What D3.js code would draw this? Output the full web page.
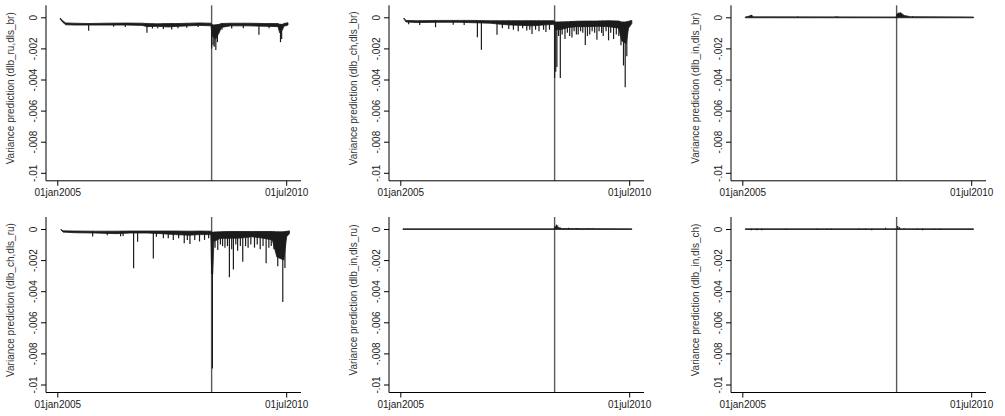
<!DOCTYPE html>
<html>
<head>
<meta charset="utf-8">
<script src="https://cdn.jsdelivr.net/npm/d3@7"></script>
<style>
  body { margin: 0; background: #fff; }
  svg { display: block; font-family: "Liberation Sans", Arial, sans-serif; }
</style>
</head>
<body>
<div id="viz"></div>
<script>
// ---- data ----
const panelLabels = ["dlb_ru,dls_br", "dlb_ch,dls_br", "dlb_in,dls_br",
                     "dlb_ch,dls_ru", "dlb_in,dls_ru", "dlb_in,dls_ch"];
const yTicks = [0, -0.002, -0.004, -0.006, -0.008, -0.01];
const yTickLabels = ["0", "-.002", "-.004", "-.006", "-.008", "-.01"];
const xTickDates = ["2005-01-01", "2010-07-01"];
const xTickLabels = ["01jan2005", "01jul2010"];
const eventDate = "2008-09-15";

// band = [date, upper edge, lower edge] of the dense daily trace
// spikes = [date, extreme value]
const bandRuBr = [
  ["2005-01-27", -0.00005, -0.00012], ["2005-02-15", -0.0002, -0.0003],
  ["2005-03-15", -0.00036, -0.00048], ["2005-06-01", -0.00038, -0.0005],
  ["2005-10-01", -0.0004, -0.0005], ["2006-03-01", -0.00038, -0.0005],
  ["2006-09-01", -0.00037, -0.0005], ["2007-01-15", -0.00038, -0.00052],
  ["2007-03-01", -0.0004, -0.0006], ["2007-06-01", -0.00042, -0.00058],
  ["2007-09-01", -0.0004, -0.00062], ["2007-12-01", -0.0004, -0.00058],
  ["2008-03-01", -0.00038, -0.00055], ["2008-06-01", -0.00036, -0.00052],
  ["2008-09-10", -0.00038, -0.00055], ["2008-09-20", -0.00048, -0.0012],
  ["2008-10-20", -0.0005, -0.0014], ["2008-11-20", -0.00045, -0.001],
  ["2008-12-10", -0.0004, -0.00065], ["2009-03-01", -0.00038, -0.00055],
  ["2009-08-01", -0.00038, -0.00055], ["2010-01-01", -0.0004, -0.00058],
  ["2010-04-20", -0.0004, -0.0006], ["2010-05-05", -0.00045, -0.001],
  ["2010-05-30", -0.00045, -0.0008], ["2010-06-10", -0.0004, -0.00058],
  ["2010-07-17", -0.00035, -0.0005]
];
const spikesRuBr = [
  ["2005-10-03", -0.00086], ["2006-05-10", -0.0006], ["2006-08-20", -0.00062],
  ["2007-02-26", -0.001], ["2007-04-15", -0.00072], ["2007-06-01", -0.0007],
  ["2007-07-20", -0.00075], ["2007-10-01", -0.00078], ["2007-11-25", -0.0007],
  ["2008-02-10", -0.00068], ["2008-05-20", -0.00062], ["2008-09-15", -0.002],
  ["2008-09-28", -0.0018], ["2008-10-08", -0.0019], ["2008-10-22", -0.0021],
  ["2008-11-05", -0.0016], ["2008-12-15", -0.0008], ["2009-03-10", -0.00072],
  ["2009-06-20", -0.0007], ["2009-11-04", -0.00112], ["2010-02-01", -0.0007],
  ["2010-05-12", -0.0016], ["2010-05-22", -0.0014]
];

const bandChBr = [
  ["2005-02-01", -0.00005, -0.0001], ["2005-02-20", -0.0002, -0.0003],
  ["2005-06-01", -0.00022, -0.00034], ["2005-12-01", -0.0002, -0.00032],
  ["2006-06-01", -0.0002, -0.00032], ["2006-10-01", -0.0002, -0.00035],
  ["2007-03-01", -0.00022, -0.00038], ["2007-06-01", -0.00022, -0.00045],
  ["2007-09-01", -0.00022, -0.0005], ["2007-12-01", -0.00022, -0.00052],
  ["2008-03-01", -0.00022, -0.00055], ["2008-06-01", -0.00022, -0.0005],
  ["2008-09-10", -0.00022, -0.00045], ["2008-09-18", -0.0003, -0.0008],
  ["2008-11-01", -0.0003, -0.0008], ["2009-01-15", -0.00028, -0.00065],
  ["2009-04-01", -0.00025, -0.0006], ["2009-07-01", -0.00024, -0.0006],
  ["2009-10-01", -0.00024, -0.00058], ["2010-01-01", -0.00022, -0.0006],
  ["2010-04-01", -0.00024, -0.0007], ["2010-04-25", -0.0003, -0.0015],
  ["2010-06-05", -0.0003, -0.0017], ["2010-06-25", -0.00025, -0.0007],
  ["2010-07-24", -0.0002, -0.0004]
];
const spikesChBr = [
  ["2005-03-15", -0.00045], ["2005-06-20", -0.0005], ["2005-11-06", -0.00064],
  ["2006-04-10", -0.00048], ["2006-07-15", -0.0005], ["2006-11-08", -0.00129],
  ["2006-12-13", -0.00208], ["2007-04-29", -0.00112], ["2007-06-15", -0.0007],
  ["2007-08-10", -0.00075], ["2007-09-20", -0.0008], ["2007-11-01", -0.0009],
  ["2007-12-10", -0.0007], ["2008-01-15", -0.00085], ["2008-02-10", -0.0008],
  ["2008-03-01", -0.00107], ["2008-04-01", -0.0008], ["2008-05-01", -0.0009],
  ["2008-06-10", -0.0008], ["2008-07-01", -0.00095], ["2008-08-01", -0.0008],
  ["2008-09-15", -0.0039], ["2008-09-25", -0.0035], ["2008-10-05", -0.0032],
  ["2008-10-20", -0.0012], ["2008-11-04", -0.0039], ["2008-11-20", -0.0011],
  ["2008-12-15", -0.0014], ["2009-01-05", -0.001], ["2009-01-25", -0.0012],
  ["2009-02-14", -0.0013], ["2009-03-05", -0.0009], ["2009-03-25", -0.0011],
  ["2009-04-10", -0.0011], ["2009-05-01", -0.0009], ["2009-05-20", -0.001],
  ["2009-06-11", -0.00178], ["2009-06-30", -0.0012], ["2009-07-20", -0.0011],
  ["2009-08-10", -0.0009], ["2009-09-01", -0.001], ["2009-09-21", -0.00144],
  ["2009-10-10", -0.0009], ["2009-11-01", -0.001], ["2009-11-15", -0.0012],
  ["2009-12-10", -0.0009], ["2010-01-01", -0.00148], ["2010-01-20", -0.001],
  ["2010-02-14", -0.0014], ["2010-03-10", -0.0011], ["2010-04-01", -0.0012],
  ["2010-04-20", -0.0018], ["2010-05-12", -0.0031], ["2010-05-27", -0.0045],
  ["2010-06-10", -0.0025]
];

const bandInBr = [
  ["2005-01-27", 0.00002, -0.00003], ["2005-03-05", 0.00008, -0.00003],
  ["2005-03-20", 0.00015, -0.00003], ["2005-04-05", 0.00003, -0.00003],
  ["2008-09-10", 0.00002, -0.00003], ["2008-09-20", 0.0002, -0.00003],
  ["2008-10-20", 0.0003, -0.00003], ["2008-11-20", 0.00012, -0.00003],
  ["2009-01-15", 0.00004, -0.00003], ["2010-07-21", 0.00002, -0.00003]
];
const spikesInBr = [
  ["2005-03-10", 0.00008], ["2005-03-25", 0.00015], ["2006-05-01", 0.00005],
  ["2007-04-01", 0.00006], ["2007-04-20", 0.00005], ["2008-09-20", 0.00025],
  ["2008-10-01", 0.0003], ["2008-10-15", 0.00028], ["2008-11-01", 0.00015],
  ["2008-12-20", 0.00006], ["2009-02-01", 0.00006]
];

const bandChRu = [
  ["2005-02-02", -0.00002, -0.00006], ["2005-02-20", -0.00012, -0.0002],
  ["2005-06-01", -0.00013, -0.00024], ["2005-12-01", -0.00014, -0.00026],
  ["2006-06-01", -0.00014, -0.0003], ["2006-10-01", -0.00013, -0.00026],
  ["2007-03-01", -0.00013, -0.00026], ["2007-07-01", -0.00013, -0.0003],
  ["2007-11-01", -0.00013, -0.00036], ["2008-03-01", -0.00014, -0.0004],
  ["2008-06-01", -0.00013, -0.00036], ["2008-09-08", -0.00014, -0.00036],
  ["2008-09-15", -0.0002, -0.0028], ["2008-09-25", -0.0002, -0.0029],
  ["2008-10-05", -0.0002, -0.0008], ["2008-12-01", -0.00018, -0.0006],
  ["2009-03-01", -0.00016, -0.0006], ["2009-06-01", -0.00016, -0.00058],
  ["2009-09-01", -0.00016, -0.0005], ["2009-12-01", -0.00016, -0.00058],
  ["2010-03-01", -0.00016, -0.0007], ["2010-04-10", -0.00018, -0.0018],
  ["2010-06-10", -0.00018, -0.002], ["2010-07-05", -0.00015, -0.0005],
  ["2010-07-29", -0.00012, -0.0003]
];
const spikesChRu = [
  ["2005-11-07", -0.00049], ["2006-03-15", -0.0004], ["2006-07-10", -0.00047],
  ["2006-08-01", -0.00045], ["2006-11-01", -0.00253], ["2006-12-06", -0.00082],
  ["2007-04-23", -0.00189], ["2007-05-20", -0.0005], ["2007-07-20", -0.0006],
  ["2007-09-01", -0.0006], ["2007-10-15", -0.0007], ["2007-12-01", -0.0006],
  ["2008-01-19", -0.00092], ["2008-02-15", -0.0007], ["2008-03-09", -0.00097],
  ["2008-04-20", -0.0007], ["2008-06-01", -0.0008], ["2008-07-15", -0.0007],
  ["2008-08-20", -0.0006], ["2008-09-15", -0.0029], ["2008-09-22", -0.00897],
  ["2008-10-15", -0.0012], ["2008-11-08", -0.00135], ["2008-12-01", -0.001],
  ["2008-12-20", -0.0011], ["2009-01-10", -0.0012], ["2009-02-01", -0.0011],
  ["2009-02-18", -0.0031], ["2009-03-10", -0.0013], ["2009-03-25", -0.0026],
  ["2009-04-15", -0.001], ["2009-05-01", -0.0014], ["2009-05-25", -0.0011],
  ["2009-06-15", -0.0021], ["2009-07-10", -0.0011], ["2009-08-01", -0.0012],
  ["2009-08-25", -0.001], ["2009-09-26", -0.0012], ["2009-10-20", -0.001],
  ["2009-11-15", -0.0013], ["2009-12-10", -0.0011], ["2010-01-06", -0.0022],
  ["2010-01-30", -0.0012], ["2010-02-20", -0.0011], ["2010-03-15", -0.0013],
  ["2010-04-18", -0.0024], ["2010-06-01", -0.0047], ["2010-06-20", -0.0025]
];

const bandInRu = [
  ["2005-01-24", 0.00001, -0.00003], ["2008-09-10", 0.00001, -0.00003],
  ["2008-09-20", 0.00012, -0.00003], ["2008-10-10", 0.0001, -0.00003],
  ["2008-11-10", 0.00003, -0.00003], ["2010-07-24", 0.00001, -0.00003]
];
const spikesInRu = [
  ["2008-09-18", 0.0002], ["2008-10-01", 0.00028], ["2008-10-12", 0.00022],
  ["2008-11-01", 0.00012], ["2009-01-15", 0.00008], ["2009-04-01", 0.00006],
  ["2009-07-01", 0.00005], ["2009-08-15", 0.00004]
];

const bandInCh = [
  ["2005-01-27", 0.00001, -0.00003], ["2010-07-21", 0.00001, -0.00003]
];
const spikesInCh = [
  ["2005-03-20", -0.00008], ["2005-05-10", -0.00008], ["2005-06-20", -0.00008],
  ["2006-01-20", -0.00007], ["2006-10-20", -0.00007], ["2007-01-15", -0.00007],
  ["2007-02-20", -0.00007], ["2007-10-20", -0.00007], ["2007-12-20", -0.00007],
  ["2008-02-10", -0.00008], ["2008-06-10", 0.00008], ["2008-09-25", 0.0002],
  ["2008-10-10", 0.00012], ["2008-11-20", 0.00005], ["2009-03-15", -0.00007],
  ["2009-05-01", -0.00008], ["2009-08-10", -0.00007], ["2009-10-01", -0.00007]
];

const bands = [bandRuBr, bandChBr, bandInBr, bandChRu, bandInRu, bandInCh];
const spikes = [spikesRuBr, spikesChBr, spikesInBr, spikesChRu, spikesInRu, spikesInCh];

// ---- layout ----
const width = 1005, height = 416;
const colX = [46, 389, 731];      // x of each y axis
const rowZero = [17.3, 229];      // y of the 0 tick in each row
const plotW = 255;
const parse = d3.utcParse("%Y-%m-%d");

const svg = d3.select("#viz").append("svg")
    .attr("width", width)
    .attr("height", height);

panelLabels.forEach((label, i) => {
  const ox = colX[i % 3], oy = rowZero[Math.floor(i / 3)];
  const g = svg.append("g");

  const xScale = d3.scaleUtc()
    .domain(xTickDates.map(parse))
    .range([ox + 11.3, ox + 240.2]);
  const yScale = d3.scaleLinear()
    .domain([0, -0.01])
    .range([oy, oy + 155.5]);

  // event line (Sep 2008)
  g.append("line")
    .attr("x1", xScale(parse(eventDate))).attr("x2", xScale(parse(eventDate)))
    .attr("y1", oy - 12).attr("y2", oy + 163.5)
    .attr("stroke", "#5a5a5a").attr("stroke-width", 1.4);

  // dense trace band
  const area = d3.area()
    .x(d => xScale(parse(d[0])))
    .y0(d => yScale(d[1]))
    .y1(d => yScale(d[2]));
  g.append("path")
    .datum(bands[i])
    .attr("d", area)
    .attr("fill", "#1c1c1c")
    .attr("stroke", "#1c1c1c")
    .attr("stroke-width", 0.8);

  // spikes from the band
  const band = bands[i];
  const bandTop = d => {
    const t = parse(d[0]);
    const j = d3.bisector(b => parse(b[0])).left(band, t);
    const b = band[Math.min(j, band.length - 1)];
    return d[1] > 0 ? Math.min(b[1], 0) : b[1];
  };
  g.selectAll("line.spike")
    .data(spikes[i])
    .join("line")
      .attr("class", "spike")
      .attr("x1", d => xScale(parse(d[0]))).attr("x2", d => xScale(parse(d[0])))
      .attr("y1", d => yScale(bandTop(d)))
      .attr("y2", d => yScale(d[1]))
      .attr("stroke", "#1c1c1c")
      .attr("stroke-width", 1.2);

  // axes frame lines
  g.append("line")
    .attr("x1", ox).attr("x2", ox)
    .attr("y1", oy - 12).attr("y2", oy + 163.5)
    .attr("stroke", "#000").attr("stroke-width", 1);
  g.append("line")
    .attr("x1", ox).attr("x2", ox + plotW)
    .attr("y1", oy + 163.5).attr("y2", oy + 163.5)
    .attr("stroke", "#000").attr("stroke-width", 1);

  // Y axis
  const yAxis = d3.axisLeft(yScale)
    .tickValues(yTicks)
    .tickFormat((d, k) => yTickLabels[k])
    .tickSize(5);
  const yAxisG = g.append("g")
    .attr("transform", "translate(" + ox + ",0)")
    .call(yAxis);
  yAxisG.select(".domain").remove();
  yAxisG.selectAll(".tick line").attr("stroke", "#000");
  yAxisG.selectAll(".tick text")
    .attr("x", null).attr("dy", null)
    .attr("transform", "translate(-13,0) rotate(-90)")
    .attr("text-anchor", "middle")
    .attr("dominant-baseline", "central")
    .attr("font-size", 10)
    .attr("font-family", "Liberation Sans, Arial, sans-serif")
    .attr("fill", "#222");

  // X axis
  const xAxis = d3.axisBottom(xScale)
    .tickValues(xTickDates.map(parse))
    .tickFormat((d, k) => xTickLabels[k])
    .tickSize(5);
  const xAxisG = g.append("g")
    .attr("transform", "translate(0," + (oy + 163.5) + ")")
    .call(xAxis);
  xAxisG.select(".domain").remove();
  xAxisG.selectAll(".tick line").attr("stroke", "#000");
  xAxisG.selectAll(".tick text")
    .attr("font-size", 10)
    .attr("font-family", "Liberation Sans, Arial, sans-serif")
    .attr("fill", "#222");

  // Y axis title
  g.append("text")
    .attr("transform", "translate(" + (ox - 36) + "," + (oy + 71) + ") rotate(-90)")
    .attr("text-anchor", "middle")
    .attr("dominant-baseline", "central")
    .attr("font-size", 10)
    .attr("fill", "#333")
    .text("Variance prediction (" + label + ")");
});
</script>
</body>
</html>
